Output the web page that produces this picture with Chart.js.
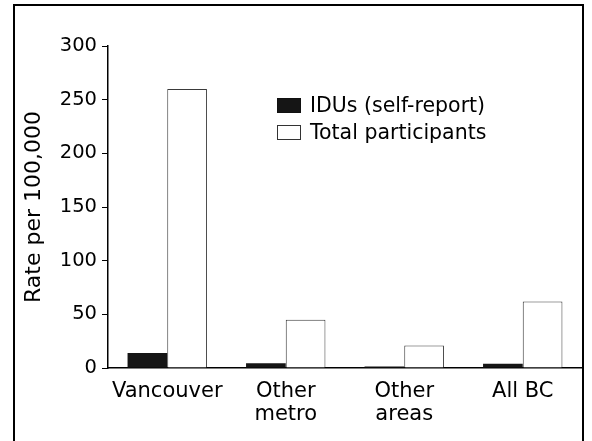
<!DOCTYPE html>
<html>
<head>
<meta charset="utf-8">
<script src="https://cdn.jsdelivr.net/npm/chart.js@4/dist/chart.umd.min.js"></script>
<style>
  html, body { margin: 0; padding: 0; background: #fff; }
  #wrap { width: 592px; height: 441px; position: relative; }
</style>
</head>
<body>
<div id="wrap"><canvas id="c" width="592" height="441"></canvas></div>
<script>
const categories = [["Vancouver"], ["Other", "metro"], ["Other", "areas"], ["All BC"]];
const iduValues = [14, 4.5, 1.5, 4];
const totalValues = [260, 45, 21, 62];
const seriesLabels = ["IDUs (self-report)", "Total participants"];
const yTicks = [0, 50, 100, 150, 200, 250, 300];

const FONT = "'DejaVu Sans', 'Liberation Sans', Arial, sans-serif";

const framePlugin = {
  id: 'frame',
  beforeDraw(chart) {
    const ctx = chart.ctx;
    ctx.save();
    ctx.fillStyle = '#fff';
    ctx.fillRect(0, 0, chart.width, chart.height);
    ctx.restore();
  },
  afterDraw(chart) {
    const ctx = chart.ctx;
    ctx.save();
    ctx.strokeStyle = '#000';
    ctx.lineWidth = 2;
    ctx.strokeRect(14, 5, 569, 470);
    // legend
    const ds = chart.data.datasets;
    const x0 = 277, y0 = 98, bw = 24, bh = 15, gap = 27;
    ctx.font = "20.5px " + FONT;
    ctx.textBaseline = 'middle';
    ds.forEach((d, i) => {
      const y = y0 + i * gap;
      ctx.fillStyle = d.backgroundColor;
      ctx.fillRect(x0, y, bw, bh);
      ctx.lineWidth = 1;
      ctx.strokeStyle = i === 0 ? '#111' : '#333';
      ctx.strokeRect(x0 + 0.5, y + 0.5, bw - 1, bh - 1);
      ctx.fillStyle = '#000';
      ctx.fillText(d.label, x0 + 33, y + bh / 2 + 1);
    });
    ctx.restore();
  }
};

new Chart(document.getElementById('c'), {
  type: 'bar',
  data: {
    labels: categories,
    datasets: [
      {
        label: seriesLabels[0],
        data: iduValues,
        backgroundColor: '#151515',
        borderWidth: 0,
        categoryPercentage: 0.67,
        barPercentage: 1.0
      },
      {
        label: seriesLabels[1],
        data: totalValues,
        backgroundColor: '#ffffff',
        borderColor: '#3a3a3a',
        borderWidth: 1,
        borderSkipped: 'bottom',
        categoryPercentage: 0.67,
        barPercentage: 1.0
      }
    ]
  },
  options: {
    responsive: false,
    animation: false,
    devicePixelRatio: 1,
    layout: { padding: { top: 46, right: 10, left: 0, bottom: 0 } },
    plugins: {
      legend: { display: false },
      tooltip: { enabled: false }
    },
    scales: {
      x: {
        offset: true,
        grid: { display: false },
        border: { display: true, color: '#000', width: 1.5 },
        ticks: {
          color: '#000',
          font: { family: FONT, size: 21, lineHeight: 1.1 },
          padding: 4,
          maxRotation: 0,
          autoSkip: false
        },
        afterFit(s) { s.height = 73; }
      },
      y: {
        min: 0,
        max: 300,
        afterBuildTicks(s) { s.ticks = yTicks.map(v => ({ value: v })); },
        grid: { drawOnChartArea: false, drawTicks: true, tickLength: 6, color: '#000' },
        border: { display: true, color: '#000', width: 1.5 },
        ticks: {
          color: '#000',
          font: { family: FONT, size: 19.5 },
          padding: 5
        },
        title: {
          display: true,
          text: 'Rate per 100,000',
          color: '#000',
          font: { family: FONT, size: 22 },
          padding: { top: 21, bottom: 0 }
        },
        afterFit(s) { s.width = 108; }
      }
    }
  },
  plugins: [framePlugin]
});
</script>
</body>
</html>
